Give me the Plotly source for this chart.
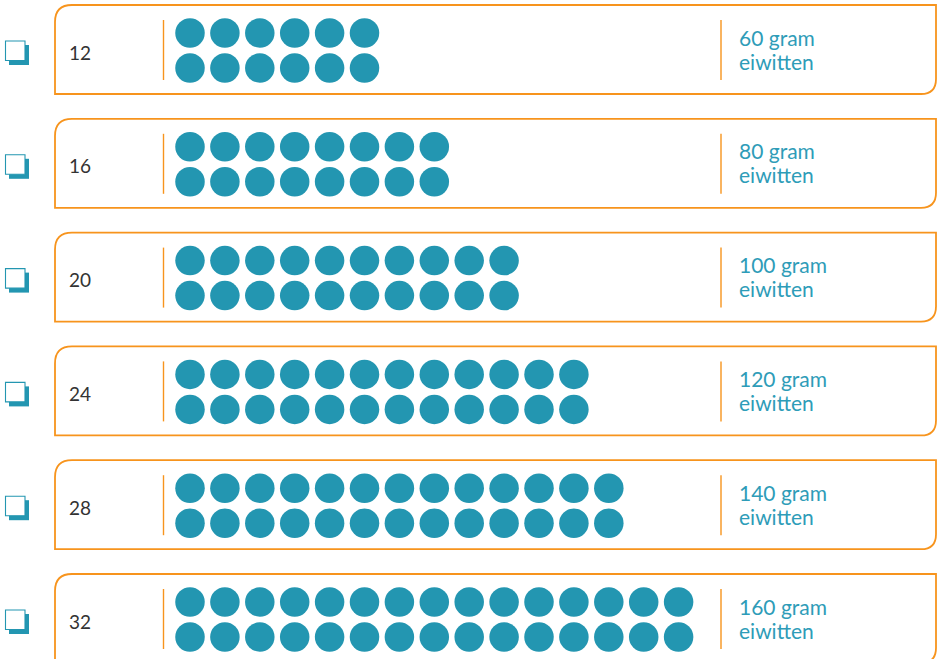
import plotly.graph_objects as go

# ---- data ----
counts = [12, 16, 20, 24, 28, 32]
dots_per_row = [6, 8, 10, 12, 13, 15]
protein_grams = [60, 80, 100, 120, 140, 160]
label_unit = "gram"
label_word = "eiwitten"

# ---- style / layout ----
W, H = 938, 659
ORANGE = "#F7941D"
TEAL = "#2396B1"
TEXT_TEAL = "#2E9CB8"
FONT = "Lato"
card_top0, card_step, card_h = 5, 113.8, 89
card_left, card_right = 55, 936
r_tl, r_br = 17, 15
sep_left_x, sep_right_x = 163.5, 721
dot_x0, dot_dx, dot_size = 190, 34.9, 29.5

fig = go.Figure()
shapes = []
annotations = []

for i, (n, per_row, g) in enumerate(zip(counts, dots_per_row, protein_grams)):
    top = card_top0 + i * card_step
    bot = top + card_h
    # card outline: rounded top-left and bottom-right
    path = (f"M {card_left},{top + r_tl} Q {card_left},{top} {card_left + r_tl},{top} "
            f"L {card_right},{top} L {card_right},{bot - r_br} "
            f"Q {card_right},{bot} {card_right - r_br},{bot} L {card_left},{bot} Z")
    shapes.append(dict(type="path", path=path, xref="x", yref="y",
                       line=dict(color=ORANGE, width=1.8), fillcolor="white", layer="below"))
    # separators
    for sx in (sep_left_x, sep_right_x):
        shapes.append(dict(type="line", xref="x", yref="y", x0=sx, x1=sx,
                           y0=top + 15, y1=top + 75,
                           line=dict(color=ORANGE, width=1.4), layer="below"))
    # checkbox with shadow
    shapes.append(dict(type="rect", xref="x", yref="y", x0=9, x1=29, y0=top + 40, y1=top + 60,
                       fillcolor=TEAL, line=dict(width=0), layer="above"))
    shapes.append(dict(type="rect", xref="x", yref="y", x0=5.5, x1=25, y0=top + 36, y1=top + 55.5,
                       fillcolor="white", line=dict(color=TEAL, width=1.1), layer="above"))
    # number label
    annotations.append(dict(x=67, y=top + 47, xref="x", yref="y", text=str(n),
                            showarrow=False, xanchor="left", yanchor="middle",
                            font=dict(family=FONT, size=19, color="#333333")))
    # right label (two lines)
    annotations.append(dict(x=737, y=top + 32, xref="x", yref="y",
                            text=f"{g} {label_unit}",
                            showarrow=False, xanchor="left", yanchor="middle", align="left",
                            font=dict(family=FONT, size=21, color=TEXT_TEAL)))
    annotations.append(dict(x=737, y=top + 56, xref="x", yref="y",
                            text=label_word,
                            showarrow=False, xanchor="left", yanchor="middle", align="left",
                            font=dict(family=FONT, size=21, color=TEXT_TEAL)))
    # dots
    xs, ys = [], []
    for rowy in (top + 28, top + 63):
        for j in range(per_row):
            xs.append(dot_x0 + j * dot_dx)
            ys.append(rowy)
    fig.add_trace(go.Scatter(x=xs, y=ys, mode="markers", hoverinfo="skip",
                             marker=dict(size=dot_size, color=TEAL, line=dict(width=0)),
                             showlegend=False))

fig.update_layout(
    width=W, height=H, margin=dict(l=0, r=0, t=0, b=0),
    paper_bgcolor="white", plot_bgcolor="white",
    xaxis=dict(range=[0, W], visible=False, fixedrange=True),
    yaxis=dict(range=[H, 0], visible=False, fixedrange=True),
    shapes=shapes, annotations=annotations, showlegend=False,
)

fig.write_html("out.html", config={"displayModeBar": False},
               post_script="document.body.style.margin='0';document.body.style.padding='0';"
                           "document.body.style.overflow='hidden';")
